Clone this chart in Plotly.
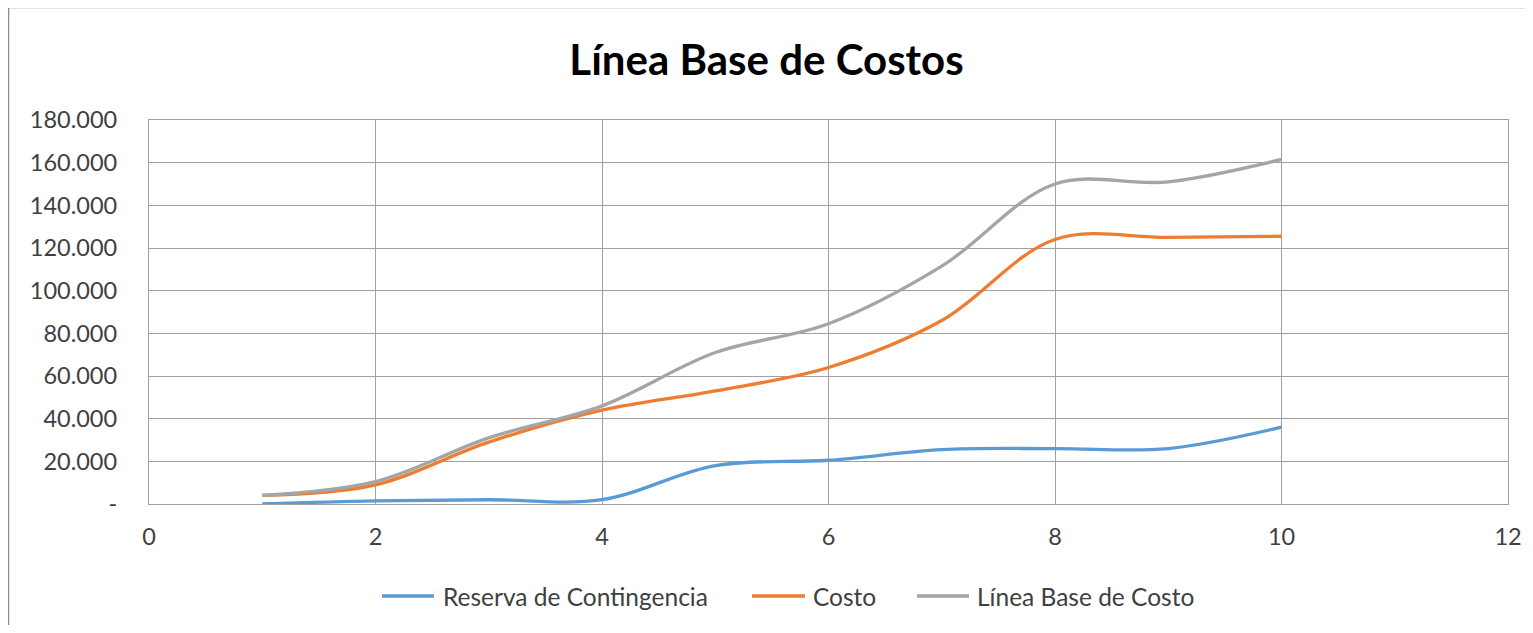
import plotly.graph_objects as go

periodos = [1, 2, 3, 4, 5, 6, 7, 8, 9, 10]
reserva = [0, 1500, 2000, 2000, 18000, 20500, 25500, 26000, 26000, 36000]
costo = [4000, 9000, 29000, 44000, 53000, 64000, 86000, 124000, 125000, 125500]
linea_base = [4000, 10500, 31000, 46000, 71000, 84500, 111500, 150000, 151000, 161500]

series_names = ["Reserva de Contingencia", "Costo", "Línea Base de Costo"]
series_colors = ["#5B9BD5", "#ED7D31", "#A5A5A5"]

y_tickvals = [0, 20000, 40000, 60000, 80000, 100000, 120000, 140000, 160000, 180000]
y_ticktext = ["-", "20.000", "40.000", "60.000", "80.000", "100.000",
              "120.000", "140.000", "160.000", "180.000"]
x_tickvals = [0, 2, 4, 6, 8, 10, 12]

# page body has an 8px margin, figure starts at (8, 8) in the window
OFF = 8
W, H = 1517, 617
ML, MR, MT, MB = 141, 17, 112, 121
PW, PH = W - ML - MR, H - MT - MB
FONT = "Lato"
TXT = "#404040"


def px(xw):
    return (xw - OFF - ML) / PW


def py(yw):
    return (H - MB - (yw - OFF)) / PH


fig = go.Figure()
for name, vals, col in zip(series_names, [reserva, costo, linea_base], series_colors):
    fig.add_trace(go.Scatter(
        x=periodos, y=vals, name=name, mode="lines",
        line=dict(color=col, width=3.3, shape="spline", smoothing=1.0),
        showlegend=False,
    ))

shapes = [
    dict(type="line", xref="paper", yref="paper", x0=px(8.5), x1=px(1533), y0=py(7.5), y1=py(7.5),
         line=dict(color="#8C8C8C", width=1.5)),
    dict(type="line", xref="paper", yref="paper", x0=px(8.5), x1=px(8.5), y0=py(7.5), y1=py(633),
         line=dict(color="#8C8C8C", width=1.5)),
]
annotations = []
legend_pos = [(382, 434, 441), (752, 805, 811), (917, 969, 975)]
LEG_Y = 596
for (lx0, lx1, tx), name, col in zip(legend_pos, series_names, series_colors):
    shapes.append(dict(type="line", xref="paper", yref="paper", x0=px(lx0), x1=px(lx1),
                       y0=py(LEG_Y), y1=py(LEG_Y), line=dict(color=col, width=3.3)))
    annotations.append(dict(text=name, xref="paper", yref="paper", x=px(tx), y=py(LEG_Y),
                            xanchor="left", yanchor="middle", showarrow=False,
                            font=dict(family=FONT, size=24.5, color=TXT)))

fig.update_layout(
    width=W, height=H,
    margin=dict(l=ML, r=MR, t=MT, b=MB, pad=0, autoexpand=False),
    paper_bgcolor="white", plot_bgcolor="white",
    font=dict(family=FONT, color=TXT),
    title=dict(text="<b>Línea Base de Costos</b>", xref="container", x=0.5, xanchor="center",
               y=1 - (60 - OFF) / H, yanchor="middle",
               font=dict(family=FONT, size=42, color="#000000")),
    showlegend=False,
    xaxis=dict(range=[0, 12], tickvals=x_tickvals, showgrid=True, automargin=False,
               gridcolor="#A0A0A0", gridwidth=1.3, zeroline=False,
               showline=True, linecolor="#A0A0A0", linewidth=1.3, mirror=True,
               ticks="", ticklabelstandoff=12, ticklabeloverflow="allow",
               tickfont=dict(family=FONT, size=23.5, color=TXT)),
    yaxis=dict(range=[0, 180000], tickvals=y_tickvals, ticktext=y_ticktext,
               showgrid=True, gridcolor="#A0A0A0", gridwidth=1.3, zeroline=False,
               automargin=False,
               showline=True, linecolor="#A0A0A0", linewidth=1.3, mirror=True,
               ticks="", ticklabelstandoff=26,
               tickfont=dict(family=FONT, size=23.5, color=TXT)),
    shapes=shapes,
    annotations=annotations,
)

fig.write_html("out.html")
